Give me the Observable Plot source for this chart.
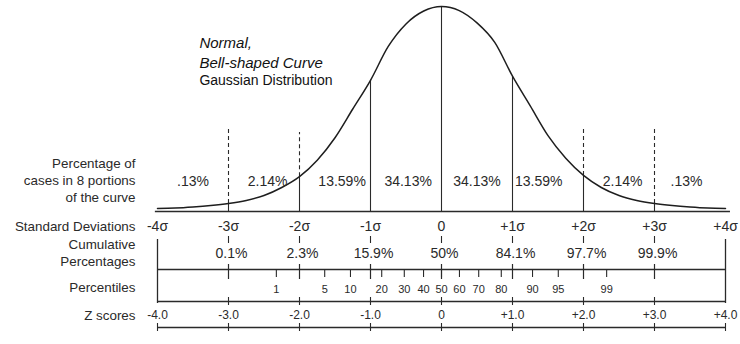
<!DOCTYPE html>
<html>
<head>
<meta charset="utf-8">
<script src="https://cdn.jsdelivr.net/npm/d3@7"></script>
<script src="https://cdn.jsdelivr.net/npm/@observablehq/plot@0.6"></script>
<style>
  html, body { margin: 0; padding: 0; background: #fff; }
  #chart svg { display: block; }
</style>
</head>
<body>
<div id="chart"></div>
<script>
// ---- Data ----
const curveZ = [-4, -3.75, -3.5, -3.25, -3, -2.75, -2.5, -2.25, -2, -1.75, -1.5, -1.25, -1, -0.75, -0.5, -0.25,
  0, 0.25, 0.5, 0.75, 1, 1.25, 1.5, 1.75, 2, 2.25, 2.5, 2.75, 3, 3.25, 3.5, 3.75, 4];
const curveH = [0.015, 0.017, 0.022, 0.029, 0.039, 0.054, 0.078, 0.117, 0.170, 0.250, 0.360, 0.500, 0.640, 0.805, 0.915, 0.978,
  1.000, 0.980, 0.920, 0.825, 0.660, 0.515, 0.370, 0.260, 0.176, 0.117, 0.078, 0.054, 0.039, 0.029, 0.022, 0.017, 0.015];

const sigmaZ = [-4, -3, -2, -1, 0, 1, 2, 3, 4];
const sigmaLabels = ["-4σ", "-3σ", "-2σ", "-1σ", "0", "+1σ", "+2σ", "+3σ", "+4σ"];
const zScoreLabels = ["-4.0", "-3.0", "-2.0", "-1.0", "0", "+1.0", "+2.0", "+3.0", "+4.0"];

const innerZ = [-3, -2, -1, 0, 1, 2, 3];
const cumulativeLabels = ["0.1%", "2.3%", "15.9%", "50%", "84.1%", "97.7%", "99.9%"];

const percentileValues = [1, 5, 10, 20, 30, 40, 50, 60, 70, 80, 90, 95, 99];
const percentileZ = [-2.326, -1.645, -1.282, -0.842, -0.524, -0.253, 0, 0.253, 0.524, 0.842, 1.282, 1.645, 2.326];

const portionZ = [-3.5, -2.45, -1.4, -0.47, 0.5, 1.37, 2.55, 3.45];
const portionLabels = [".13%", "2.14%", "13.59%", "34.13%", "34.13%", "13.59%", "2.14%", ".13%"];

const dashedZ = [-3, -2, 2, 3];
const dashedTop = [0.41, 0.385, 0.41, 0.41];

const titleItalic = ["Normal,", "Bell-shaped Curve"];
const titlePlain = ["Gaussian Distribution"];
const rowTitles = ["Percentage of", "cases in 8 portions", "of the curve", "Standard Deviations",
  "Cumulative", "Percentages", "Percentiles", "Z scores"];

// ---- Layout (pixel rows converted into y units) ----
const BASE = 211, UNIT = 205;
const Y = px => (BASE - px) / UNIT;
const FONT = "Liberation Sans, Arial, Helvetica, sans-serif";
const INK = "#2a2a2a";

const curve = curveZ.map((z, i) => ({z, h: curveH[i]}));
const hAt = z => curveH[curveZ.indexOf(z)];

const rowTitleY = [163, 180, 197, 226, 244, 261, 287, 315];
const titleItalicY = [43, 63];
const titlePlainY = [80];

const chart = Plot.plot({
  width: 740,
  height: 344,
  marginTop: 0, marginBottom: 0, marginLeft: 0, marginRight: 0,
  x: {domain: [-4, 4], range: [157, 725], axis: null},
  y: {domain: [Y(344), Y(0)], axis: null},
  style: {background: "#fff", overflow: "visible"},
  marks: [
    // baseline under the curve
    Plot.ruleY([0], {x1: -4.03, x2: 4.07, stroke: INK, strokeWidth: 1.6}),
    // solid sigma lines from baseline up to curve
    Plot.ruleX(innerZ, {x: d => d, y1: 0, y2: d => hAt(d), stroke: INK, strokeWidth: 1.1}),
    // dashed guides above the curve
    Plot.ruleX(dashedZ, {x: d => d, y1: d => hAt(d), y2: (d, i) => dashedTop[i], stroke: INK, strokeWidth: 1.1, strokeDasharray: "4,3"}),
    // the curve
    Plot.line(curve, {x: "z", y: "h", curve: "monotone-x", stroke: "#1e1e1e", strokeWidth: 1.5}),
    // portion percentages
    Plot.text(portionLabels, {x: (d, i) => portionZ[i], y: Y(181), text: d => d, fontSize: 14, fontFamily: FONT, fill: INK}),
    // title block
    Plot.text(titleItalic, {x: -3.41, y: (d, i) => Y(titleItalicY[i]), text: d => d, textAnchor: "start",
      fontSize: 15, fontStyle: "italic", fontFamily: FONT, fill: "#111"}),
    Plot.text(titlePlain, {x: -3.41, y: (d, i) => Y(titlePlainY[i]), text: d => d, textAnchor: "start",
      fontSize: 14, fontFamily: FONT, fill: "#111"}),
    // row titles on the left
    Plot.text(rowTitles, {x: -4, dx: -22, y: (d, i) => Y(rowTitleY[i]), text: d => d, textAnchor: "end", fontSize: 13.4, fontFamily: FONT, fill: INK}),
    // standard deviation labels
    Plot.text(sigmaLabels, {x: (d, i) => sigmaZ[i], y: Y(226), text: d => d, fontSize: 14, fontFamily: FONT, fill: INK}),
    // outer verticals at +-4
    Plot.ruleX([-4, 4], {x: d => d, y1: Y(239), y2: Y(303), stroke: INK, strokeWidth: 1.3}),
    // short dashes under sigma labels
    Plot.ruleX(innerZ, {x: d => d, y1: Y(236), y2: Y(243), stroke: INK, strokeWidth: 1.1}),
    // cumulative percentages
    Plot.text(cumulativeLabels, {x: (d, i) => innerZ[i], dx: 3, y: Y(253), text: d => d, fontSize: 14, fontFamily: FONT, fill: INK}),
    // line A
    Plot.ruleY([Y(269)], {x1: -4, x2: 4, stroke: INK, strokeWidth: 1.3}),
    Plot.ruleX(innerZ, {x: d => d, y1: Y(264), y2: Y(279), stroke: INK, strokeWidth: 1.2}),
    Plot.ruleX(percentileZ, {x: d => d, y1: Y(269), y2: Y(277), stroke: INK, strokeWidth: 1.1}),
    Plot.text(percentileValues, {x: (d, i) => percentileZ[i], y: Y(289), text: d => String(d), fontSize: 11, fontFamily: FONT, fill: INK}),
    // line B
    Plot.ruleY([Y(301)], {x1: -4, x2: 4, stroke: INK, strokeWidth: 1.3}),
    Plot.ruleX(innerZ, {x: d => d, y1: Y(297), y2: Y(305), stroke: INK, strokeWidth: 1.1}),
    Plot.text(zScoreLabels, {x: (d, i) => sigmaZ[i], y: Y(315), text: d => d, fontSize: 12, fontFamily: FONT, fill: INK}),
    // line C
    Plot.ruleY([Y(327)], {x1: -4, x2: 4, stroke: INK, strokeWidth: 1.3}),
    Plot.ruleX(sigmaZ, {x: d => d, y1: Y(323), y2: Y(331), stroke: INK, strokeWidth: 1.1})
  ]
});
document.getElementById("chart").append(chart);
</script>
</body>
</html>
